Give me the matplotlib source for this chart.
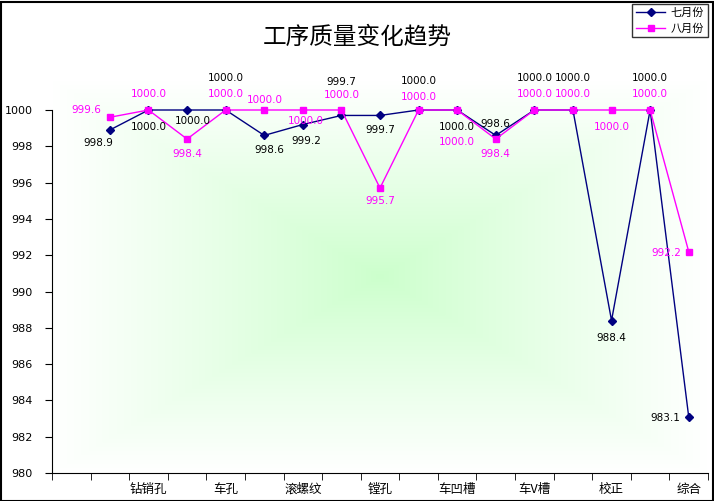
import matplotlib
matplotlib.use("Agg")
import matplotlib.pyplot as plt
import numpy as np
from matplotlib.patches import Rectangle

plt.rcParams['font.family'] = ['Noto Sans CJK SC', 'DejaVu Sans']

categories = ['', '', '钻销孔', '', '车孔', '', '滚螺纹', '', '镗孔', '', '车凹槽', '', '车V槽', '', '校正', '', '综合']
july = [None, 998.9, 1000.0, 1000.0, 1000.0, 998.6, 999.2, 999.7, 999.7, 1000.0, 1000.0, 998.6, 1000.0, 1000.0, 988.4, 1000.0, 983.1]
august = [None, 999.6, 1000.0, 998.4, 1000.0, 1000.0, 1000.0, 1000.0, 995.7, 1000.0, 1000.0, 998.4, 1000.0, 1000.0, 1000.0, 1000.0, 992.2]
series_names = ['七月份', '八月份']
yticks = [980, 982, 984, 986, 988, 990, 992, 994, 996, 998, 1000]

# label offsets in pixels (dx, dy), style only
july_off = [None, (-12, -13), (0, -17), (6, -11), (0, 32), (5, -15), (3, -16), (0, 33), (0, -15),
            (0, 29), (0, -17), (0, 11), (0, 32), (0, 32), (0, -17), (0, 32), (-23, -1)]
aug_off = [None, (-24, 7), (0, 16), (0, -15), (0, 16), (1, 10), (3, -11), (0, 15), (0, -13),
           (0, 13), (0, -32), (0, -15), (0, 16), (0, 16), (0, -17), (0, 16), (-22, -1)]

fig = plt.figure(figsize=(7.14, 5.01), dpi=100)
ax = fig.add_axes([52/714, (501-473)/501, 656/714, (473-110)/501])

x = np.arange(len(categories))
ax.set_xlim(-0.5, len(categories)-0.5)
ax.set_ylim(980, 1000)

# rectangular gradient background
n = 300
u = np.linspace(-1, 1, n)
U, V = np.meshgrid(u, u)
t = np.maximum(np.abs(U), np.abs(V))
t = np.clip(t, 0, 1) ** 0.9
c0 = np.array([0.80, 1.0, 0.80])
img = (1 - t)[..., None] * c0 + t[..., None] * np.array([1.0, 1.0, 1.0])
ax.imshow(img, extent=[0, 1, 0, 1.08], transform=ax.transAxes, aspect='auto', zorder=0, clip_on=False)

def plot_series(vals, color, marker, ms, lw, name, offs, tcolor):
    xs = [i for i, v in enumerate(vals) if v is not None]
    ys = [v for v in vals if v is not None]
    ax.plot(xs, ys, color=color, marker=marker, markersize=ms, linewidth=lw, label=name,
            clip_on=False, zorder=3)
    for xi, yi in zip(xs, ys):
        dx, dy = offs[xi]
        ax.annotate(f'{yi:.1f}', (xi, yi), xytext=(dx, dy), textcoords='offset pixels',
                    ha='center', va='center', fontsize=7.5, color=tcolor,
                    family='DejaVu Sans', zorder=4, annotation_clip=False)

plot_series(july, '#000080', 'D', 4, 1.0, series_names[0], july_off, 'black')
plot_series(august, '#FF00FF', 's', 5, 1.0, series_names[1], aug_off, '#FF00FF')

ax.set_yticks(yticks)
ax.set_yticklabels([str(v) for v in yticks], fontsize=8, family='DejaVu Sans')
ax.set_xticks(x)
ax.set_xticklabels(categories, fontsize=9)
ax.tick_params(axis='x', which='major', length=0, pad=7)
ax.set_xticks(np.arange(-0.5, len(categories)), minor=True)
ax.tick_params(axis='x', which='minor', length=5, direction='out', color='black')
ax.tick_params(axis='y', length=5, direction='out', pad=9)
for s in ['top', 'right']:
    ax.spines[s].set_visible(False)
ax.spines['left'].set_color('black')
ax.spines['bottom'].set_color('black')
ax.patch.set_alpha(0)

fig.text(357/714, 1 - 37/501, '工序质量变化趋势', ha='center', va='center', fontsize=17)

leg = fig.legend(loc='upper right', bbox_to_anchor=(708/714, 1 - 4/501), fontsize=8,
                 frameon=True, fancybox=False, edgecolor='black', handlelength=2.6,
                 borderpad=0.35, labelspacing=0.45, handletextpad=0.5, borderaxespad=0)
leg.get_frame().set_linewidth(1.0)

fig.patches.append(Rectangle((0.5/714, 0.5/501), 1 - 2/714, 1 - 2/501, transform=fig.transFigure,
                             fill=False, edgecolor='black', linewidth=1.5, zorder=10))

fig.savefig('out.png', dpi=100)
